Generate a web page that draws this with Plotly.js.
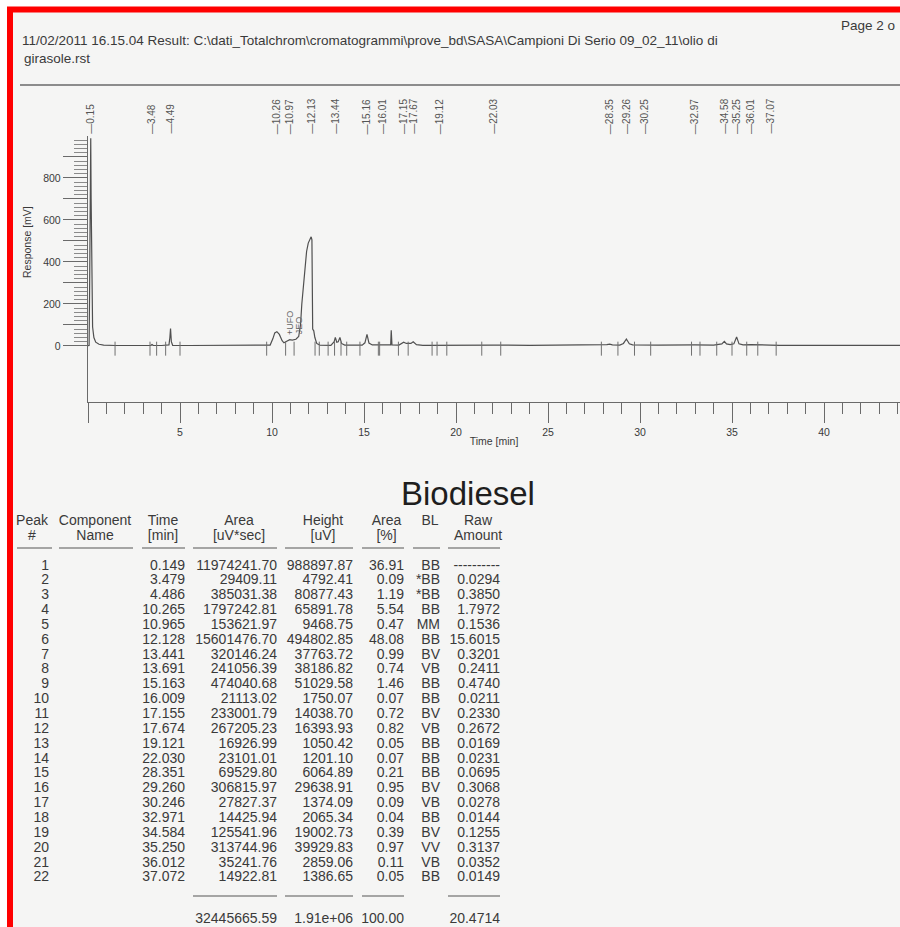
<!DOCTYPE html>
<html><head><meta charset="utf-8">
<script src="https://cdn.plot.ly/plotly-3.0.1.min.js"></script>
<style>html,body{margin:0;padding:0;background:#fff}#chart{width:900px;height:927px}</style>
</head><body><div id="chart"></div>
<script>
// ---------- chromatogram signal ----------
const timeMin = [0, 0.06, 0.09, 0.12, 0.149, 0.17, 0.2, 0.25, 0.32, 0.42, 0.6, 0.85, 1.5, 3.0, 3.42, 3.479, 3.54, 4.0, 4.40, 4.45, 4.486, 4.53, 4.6, 5.5, 7.5, 9.5, 9.9, 10.05, 10.15, 10.265, 10.4, 10.55, 10.65, 10.8, 10.965, 11.1, 11.3, 11.45, 11.55, 11.62, 11.7, 11.8, 11.88, 11.97, 12.07, 12.128, 12.17, 12.19, 12.21, 12.27, 12.33, 12.43, 12.6, 13.2, 13.38, 13.441, 13.52, 13.6, 13.691, 13.78, 13.95, 14.9, 15.05, 15.163, 15.27, 15.45, 16.009, 16.45, 16.48, 16.52, 16.9, 17.05, 17.155, 17.3, 17.55, 17.674, 17.85, 18.2, 19.121, 20, 22.03, 24, 27.8, 28.2, 28.351, 28.5, 28.9, 29.1, 29.26, 29.42, 29.6, 29.9, 30.246, 30.6, 31.0, 32.971, 34.0, 34.45, 34.584, 34.7, 34.9, 35.1, 35.25, 35.38, 35.6, 36.012, 36.4, 37.072, 37.6, 40, 44.2];
const responseMV = [1, 2, 300, 800, 989, 700, 250, 90, 40, 18, 8, 4, 2, 2, 3, 7, 3, 2, 5, 40, 83, 20, 3, 2, 2, 2, 4, 35, 62, 68, 55, 25, 15, 22, 30, 28, 32, 45, 100, 200, 290, 400, 450, 490, 515, 520, 505, 200, 80, 72, 40, 12, 4, 3, 20, 41, 18, 20, 41, 12, 4, 4, 15, 55, 14, 5, 6, 5, 75, 5, 4, 10, 18, 12, 12, 20, 6, 3, 4, 3, 4, 3, 3, 6, 9, 5, 4, 12, 33, 10, 5, 4, 5, 2, 4, 5, 4, 10, 22, 10, 6, 10, 43, 10, 5, 6, 4, 4, 3, 3, 3];

// retention-time labels printed above the trace
const peakLabelTimes = [0.15, 3.48, 4.49, 10.26, 10.97, 12.13, 13.44, 15.16, 16.01, 17.15, 17.67, 19.12, 22.03, 28.35, 29.26, 30.25, 32.97, 34.58, 35.25, 36.01, 37.07];
const peakLabelText = ['0.15', '3.48', '4.49', '10.26', '10.97', '12.13', '13.44', '15.16', '16.01', '17.15', '17.67', '19.12', '22.03', '28.35', '29.26', '30.25', '32.97', '34.58', '35.25', '36.01', '37.07'];

// integration start/end marks under the baseline
const markTimes = [1.47, 3.37, 3.73, 4.22, 5.0, 9.71, 10.74, 11.2, 12.34, 12.57, 13.05, 13.4, 13.75, 14.06, 14.78, 15.78, 15.85, 16.87, 17.4, 18.7, 18.97, 19.5, 21.4, 22.43, 27.9, 28.8, 29.7, 30.58, 32.8, 33.26, 34.17, 35.0, 35.8, 36.4, 37.4];
const markLevel = -13;

// axis ticks
const yTickVals = [0, 100, 200, 300, 400, 500, 600, 700, 800, 900];
const yTickText = ['0', '', '200', '', '400', '', '600', '', '800', ''];
const xTickVals = [0, 5, 10, 15, 20, 25, 30, 35, 40];
const xTickText = ['', '5', '10', '15', '20', '25', '30', '35', '40'];

// ---------- result table ----------
const peakNo = ['1','2','3','4','5','6','7','8','9','10','11','12','13','14','15','16','17','18','19','20','21','22'];
const compName = peakNo.map(() => '');
const timeCol = ['0.149','3.479','4.486','10.265','10.965','12.128','13.441','13.691','15.163','16.009','17.155','17.674','19.121','22.030','28.351','29.260','30.246','32.971','34.584','35.250','36.012','37.072'];
const areaCol = ['11974241.70','29409.11','385031.38','1797242.81','153621.97','15601476.70','320146.24','241056.39','474040.68','21113.02','233001.79','267205.23','16926.99','23101.01','69529.80','306815.97','27827.37','14425.94','125541.96','313744.96','35241.76','14922.81'];
const heightCol = ['988897.87','4792.41','80877.43','65891.78','9468.75','494802.85','37763.72','38186.82','51029.58','1750.07','14038.70','16393.93','1050.42','1201.10','6064.89','29638.91','1374.09','2065.34','19002.73','39929.83','2859.06','1386.65'];
const areaPctCol = ['36.91','0.09','1.19','5.54','0.47','48.08','0.99','0.74','1.46','0.07','0.72','0.82','0.05','0.07','0.21','0.95','0.09','0.04','0.39','0.97','0.11','0.05'];
const blCol = ['BB','*BB','*BB','BB','MM','BB','BV','VB','BB','BB','BV','VB','BB','BB','BB','BV','VB','BB','BV','VV','VB','BB'];
const rawCol = ['----------','0.0294','0.3850','1.7972','0.1536','15.6015','0.3201','0.2411','0.4740','0.0211','0.2330','0.2672','0.0169','0.0231','0.0695','0.3068','0.0278','0.0144','0.1255','0.3137','0.0352','0.0149'];
const headerLine1 = ['Peak', 'Component', 'Time', 'Area', 'Height', 'Area', 'BL', 'Raw'];
const headerLine2 = ['#', 'Name', '[min]', '[uV*sec]', '[uV]', '[%]', '', 'Amount'];
const totalsRow = ['', '', '', '32445665.59', '1.91e+06', '100.00', '', '20.4714'];

// ---------- layout helpers (pixel -> paper) ----------
const W = 900, H = 927;
const px = v => v / W;
const py = v => 1 - v / H;
const INK = '#3a3a3a';
const SANS = '"Liberation Sans", Arial, Helvetica, sans-serif';

const colPx = [50, 76, 60, 92, 76, 51, 36, 60];
const clear = 'rgba(0,0,0,0)';

const traces = [
  {
    type: 'scatter', mode: 'lines', x: timeMin, y: responseMV,
    line: {color: '#505050', width: 1.2}, hoverinfo: 'x+y', showlegend: false
  },
  {
    type: 'scatter', mode: 'markers', x: markTimes, y: markTimes.map(() => markLevel),
    marker: {symbol: 'line-ns', size: 10, line: {color: '#707070', width: 1}},
    showlegend: false, hoverinfo: 'x'
  },
  {
    type: 'table',
    domain: {x: [px(7), px(508)], y: [py(900), py(506)]},
    columnwidth: colPx,
    header: {
      values: headerLine1.map((h, i) => [h, headerLine2[i], '']),
      align: 'center',
      height: 15,
      font: {family: SANS, size: 14, color: INK},
      fill: {color: clear},
      line: {color: clear, width: 0}
    },
    cells: {
      values: [peakNo, compName, timeCol, areaCol, heightCol, areaPctCol, blCol, rawCol],
      align: ['right','center','right','right','right','right','right','right'],
      height: 14.85,
      font: {family: SANS, size: 14, color: INK},
      fill: {color: clear},
      line: {color: clear, width: 0}
    }
  },
  {
    type: 'table',
    domain: {x: [px(7), px(508)], y: [py(927), py(888)]},
    columnwidth: colPx,
    header: {values: [], fill: {color: clear}, line: {color: clear, width: 0}},
    cells: {
      values: totalsRow.map(v => [v]),
      align: 'right',
      height: 15,
      font: {family: SANS, size: 14, color: INK},
      fill: {color: clear},
      line: {color: clear, width: 0}
    }
  }
];

// underline segments under header and above totals
const headUnder = [[17,52],[59,133],[142,185],[193,277],[285,353],[362,404],[413,440],[448,500]];
const totUnder = [[193,277],[285,353],[362,404],[448,500]];

const shapes = [
  {type: 'rect', xref: 'paper', yref: 'paper', x0: px(10), x1: px(920), y0: py(940), y1: py(9.5), layer: 'below',
   fillcolor: '#f5f5f4', line: {color: '#ff0000', width: 6}},
  {type: 'line', xref: 'paper', yref: 'paper', x0: px(20), x1: px(905), y0: py(85), y1: py(85),
   line: {color: '#8c8c8c', width: 2}}
];
headUnder.forEach(s => shapes.push({type: 'line', xref: 'paper', yref: 'paper', x0: px(s[0]), x1: px(s[1]), y0: py(548), y1: py(548), line: {color: '#8a8a8a', width: 1.5}}));
totUnder.forEach(s => shapes.push({type: 'line', xref: 'paper', yref: 'paper', x0: px(s[0]), x1: px(s[1]), y0: py(896), y1: py(896), line: {color: '#8a8a8a', width: 1.5}}));

const annotations = [
  {xref: 'paper', yref: 'paper', x: px(20), y: py(41), xanchor: 'left', yanchor: 'middle', showarrow: false,
   text: '11/02/2011 16.15.04 Result: C:\\dati_Totalchrom\\cromatogrammi\\prove_bd\\SASA\\Campioni Di Serio 09_02_11\\olio di',
   font: {family: SANS, size: 13.5, color: INK}},
  {xref: 'paper', yref: 'paper', x: px(22), y: py(59), xanchor: 'left', yanchor: 'middle', showarrow: false,
   text: 'girasole.rst', font: {family: SANS, size: 13.5, color: INK}},
  {xref: 'paper', yref: 'paper', x: px(897), y: py(25), xanchor: 'right', yanchor: 'middle', showarrow: false,
   text: 'Page 2 o', font: {family: SANS, size: 13.5, color: INK}},
  {xref: 'paper', yref: 'paper', x: px(468), y: py(493), xanchor: 'center', yanchor: 'middle', showarrow: false,
   text: 'Biodiesel', font: {family: SANS, size: 33, color: '#1e1e1e'}},
  {xref: 'paper', yref: 'paper', x: px(27), y: py(242), xanchor: 'center', yanchor: 'middle', showarrow: false,
   textangle: -90, text: 'Response [mV]', font: {family: SANS, size: 10.5, color: INK}},
  {xref: 'x', yref: 'y', x: 10.95, y: 45, xanchor: 'center', yanchor: 'bottom', showarrow: false,
   textangle: -90, text: '+UFO', font: {family: SANS, size: 9, color: '#666'}},
  {xref: 'x', yref: 'y', x: 11.45, y: 45, xanchor: 'center', yanchor: 'bottom', showarrow: false,
   textangle: -90, text: 'JEO', font: {family: SANS, size: 9, color: '#666'}}
];
peakLabelTimes.forEach((t, i) => annotations.push({
  xref: 'x', yref: 'paper', x: t, y: py(135), xanchor: 'center', yanchor: 'bottom', showarrow: false,
  textangle: -90, text: '\u2014' + peakLabelText[i], borderpad: 0,
  font: {family: SANS, size: 10, color: '#555'}
}));

const minorY = [];
for (let v = 0; v <= 980; v += 20) if (v % 100 !== 0) minorY.push(v);

const layout = {
  width: W, height: H,
  margin: {l: 0, r: 0, t: 0, b: 0},
  paper_bgcolor: '#ffffff', plot_bgcolor: 'rgba(0,0,0,0)',
  showlegend: false,
  xaxis: {
    domain: [px(88), 1], range: [0, 44.13], showgrid: false, zeroline: false,
    showline: true, linecolor: '#6a6a6a', linewidth: 1.2,
    tickmode: 'array', tickvals: xTickVals, ticktext: xTickText,
    ticks: 'outside', ticklen: 20, tickcolor: '#6a6a6a', tickwidth: 1,
    minor: {tickmode: 'linear', tick0: 0, dtick: 1, ticks: 'outside', ticklen: 11, tickcolor: '#6a6a6a', showgrid: false},
    tickfont: {family: SANS, size: 10.5, color: INK},
    title: {text: 'Time [min]', font: {family: SANS, size: 10.5, color: INK}, standoff: 0}
  },
  yaxis: {
    domain: [py(402), py(136)], range: [-267, 1000], showgrid: false, zeroline: false,
    showline: true, linecolor: '#6a6a6a', linewidth: 1.2,
    tickmode: 'array', tickvals: yTickVals, ticktext: yTickText,
    ticks: 'outside', ticklen: 24, tickcolor: '#6a6a6a', tickwidth: 1,
    minor: {tickmode: 'array', tickvals: minorY, ticks: 'outside', ticklen: 13, tickcolor: '#8a8a8a', showgrid: false},
    tickfont: {family: SANS, size: 10.5, color: INK}
  },
  shapes: shapes,
  annotations: annotations
};

Plotly.newPlot('chart', traces, layout, {displayModeBar: false, staticPlot: true});
</script>
</body></html>
